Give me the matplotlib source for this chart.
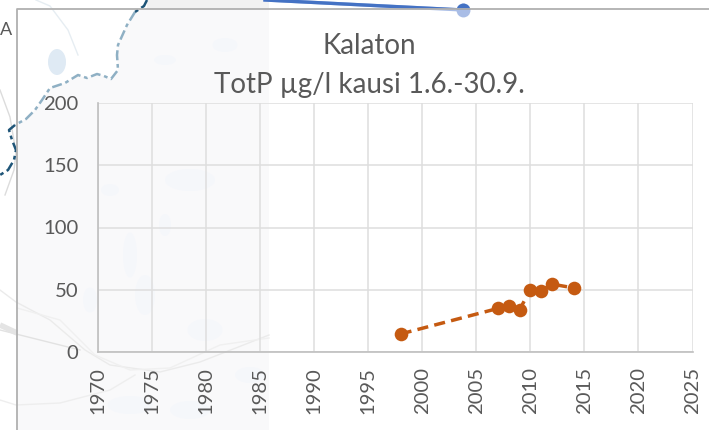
import numpy as np
import matplotlib
matplotlib.use('Agg')
import matplotlib.pyplot as plt
from matplotlib.patches import Ellipse, Polygon, Rectangle

plt.rcParams['font.family'] = ['Lato', 'DejaVu Sans']

# chart data
years = [1998, 2007, 2008, 2009, 2010, 2011, 2012, 2014]
totp = [14.5, 35, 37, 34, 50, 49, 54.5, 51.5]
xticks = list(range(1970, 2030, 5))
yticks = [0, 50, 100, 150, 200]
title_top = 'Kalaton'
title_bottom = 'TotP µg/l kausi 1.6.-30.9.'

# background map, in pixels of the picture
border_light = [(135, 12), (127, 25), (118, 45), (117, 55), (118, 70), (111, 79), (104, 76),
                (97, 74), (87, 78), (78, 75), (65, 83), (50, 88), (42, 100), (35, 110),
                (26, 119), (15, 125)]
border_dark = [(15, 125), (9, 130), (12, 140), (16, 150), (14, 160), (8, 170), (0, 175)]
border_top = [(147, 0), (144, 6), (135, 12)]
river1 = [(36, 0), (50, 6), (68, 30), (78, 55)]
river2 = [(0, 90), (10, 117), (16, 153), (14, 170), (5, 195)]
road1 = [(0, 290), (16, 302), (50, 320), (85, 350), (110, 365), (160, 372), (200, 362), (269, 335)]
road2 = [(17, 308), (60, 320), (95, 355), (130, 370), (170, 368), (220, 345), (269, 338)]
road3 = [(0, 330), (40, 340), (80, 350)]
road4 = [(0, 400), (16, 405), (60, 403), (110, 390), (135, 375)]
smudge = [(0, 325), (17, 333)]
lakes = [(165, 60, 22, 10), (225, 45, 25, 14), (145, 295, 20, 40), (205, 330, 35, 22),
         (130, 255, 14, 45), (90, 300, 14, 25), (165, 225, 12, 22), (130, 405, 45, 18),
         (190, 410, 40, 18), (250, 375, 30, 16), (110, 190, 18, 12), (190, 180, 50, 22)]
other_line_x = [265, 463]
other_line_y = [0, 10]

fig = plt.figure(figsize=(7.09, 4.30), dpi=100)

bg = fig.add_axes([0, 0, 1, 1])
bg.set_xlim(0, 709)
bg.set_ylim(430, 0)
bg.axis('off')
bg.add_patch(Rectangle((17, 9), 252, 421, color='#f9f9fa', lw=0))
bg.add_patch(Rectangle((147, 0), 122, 9, color='#f2f2f2', lw=0))
white_corner = [(17, 9), (140, 9)] + border_light + [(17, 125)]
bg.add_patch(Polygon(white_corner, color='white', lw=0))
for cx, cy, w, h in lakes:
    bg.add_patch(Ellipse((cx, cy), w, h, color='#f5f7fa', lw=0))
bg.add_patch(Ellipse((57, 62), 18, 26, color='#dfeaf4', lw=0))
for pts, c in [(river1, '#e6edf2'), (river2, '#dcdcdc'), (road1, '#ebebeb'),
               (road2, '#f0f0f0'), (road3, '#e2e2e2'), (road4, '#eeeeee')]:
    arr = np.array(pts)
    bg.plot(arr[:, 0], arr[:, 1], color=c, lw=1)
arr = np.array(smudge)
bg.plot(arr[:, 0], arr[:, 1], color='#e4e4e4', lw=4, solid_capstyle='butt')
arr = np.array(border_light)
bg.plot(arr[:, 0], arr[:, 1], color='#8fb0c4', lw=1.8, ls=(0, (4, 1.5, 1.5, 1.5)))
for pts in (border_dark, border_top):
    arr = np.array(pts)
    bg.plot(arr[:, 0], arr[:, 1], color='#1f5578', lw=1.8, ls=(0, (4, 1.5, 1.5, 1.5)))

# the line passing behind the panel: strong above the frame, pale below it
clip_top = Rectangle((0, 0), 709, 9, transform=bg.transData)
bg.plot(other_line_x, other_line_y, color='#a9bde6', lw=2.4)
bg.plot(other_line_x[-1:], other_line_y[-1:], 'o', ms=10, color='#a9bde6', mec='none')
top_line = bg.plot(other_line_x, other_line_y, color='#4472c4', lw=2.4)[0]
top_dot = bg.plot(other_line_x[-1:], other_line_y[-1:], 'o', ms=10, color='#4472c4', mec='none')[0]
top_line.set_clip_path(clip_top)
top_dot.set_clip_path(clip_top)
bg.plot([17, 17, 709], [430, 9, 9], color='#b0b0b0', lw=1.3)
bg.text(6.5, 30, 'A', fontsize=13, color='#595959', ha='center', va='center')

# chart
ax = fig.add_axes([98 / 709, 1 - 352 / 430, (692.5 - 98) / 709, 249 / 430])
ax.patch.set_alpha(0)
ax.plot(years, totp, color='#c55a11', lw=2.5, ls=(0, (3.2, 1.8)), marker='o', ms=9.8, mew=0)
ax.set_xlim(1970, 2025)
ax.set_ylim(0, 200)
ax.set_xticks(xticks)
ax.set_yticks(yticks)
ax.grid(color='#dedede', lw=1.1)
ax.set_axisbelow(True)
ax.tick_params(length=0, labelsize=14.6, labelcolor='#595959')
ax.tick_params(axis='x', labelrotation=90, pad=11)
ax.tick_params(axis='y', pad=14)
for s in ['top', 'right']:
    ax.spines[s].set_visible(False)
ax.spines['left'].set_color('#bfbfbf')
ax.spines['bottom'].set_color('#bfbfbf')
ax.spines['left'].set_linewidth(1.2)
ax.spines['bottom'].set_linewidth(1.2)

fig.text(369 / 709, 1 - 46 / 430, title_top, fontsize=20, color='#595959', ha='center', va='center')
fig.text(369.5 / 709, 1 - 85 / 430, title_bottom, fontsize=20, color='#595959', ha='center', va='center')

fig.savefig('out.png', dpi=100)
